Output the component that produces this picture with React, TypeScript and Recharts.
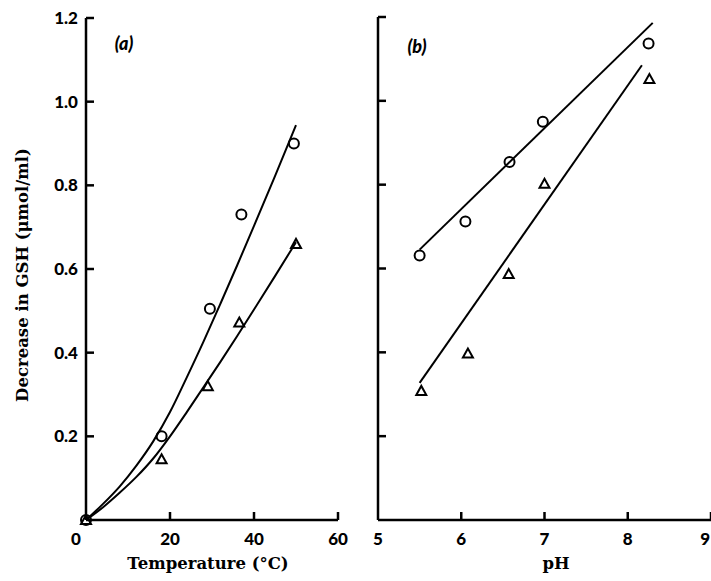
import React from 'react';
import { ComposedChart, Line, Scatter, XAxis, YAxis, Label } from 'recharts';

// ---------- Panel (a): temperature ----------
const tempCircleT = [0, 18, 29.5, 37, 49.5];
const tempCircleV = [0, 0.2, 0.505, 0.73, 0.9];
const tempTriangleT = [0, 18, 29, 36.5, 50];
const tempTriangleV = [0, 0.145, 0.32, 0.472, 0.66];
const tempFitT = [0, 4, 8, 12, 16, 20, 24, 28, 32, 36, 40, 45, 50];
const tempFitCircleV = [0, 0.038, 0.08, 0.13, 0.188, 0.258, 0.341, 0.427, 0.517, 0.609, 0.703, 0.822, 0.944];
const tempFitTriangleV = [0, 0.03, 0.065, 0.103, 0.147, 0.2, 0.258, 0.318, 0.378, 0.44, 0.503, 0.583, 0.664];
const tempTicks = [0, 20, 40, 60];

// ---------- Panel (b): pH ----------
const phCircleX = [5.5, 6.05, 6.58, 6.98, 8.25];
const phCircleV = [0.631, 0.712, 0.854, 0.95, 1.137];
const phTriangleX = [5.52, 6.08, 6.57, 7.0, 8.26];
const phTriangleV = [0.308, 0.397, 0.587, 0.802, 1.052];
const phFitCircleX = [5.5, 8.3];
const phFitCircleV = [0.645, 1.186];
const phFitTriangleX = [5.5, 8.17];
const phFitTriangleV = [0.327, 1.085];
const phTicks = [5, 6, 7, 8, 9];

const gshTicks = [0.2, 0.4, 0.6, 0.8, 1.0, 1.2];

const yTitle = 'Decrease in GSH (\u03bcmol/ml)';
const xTitleA = 'Temperature (\u00b0C)';
const xTitleB = 'pH';
const panelA = '(a)';
const panelB = '(b)';

const pts = (xs: number[], ys: number[]) => xs.map((x, i) => ({ x, y: ys[i] }));

const tickFont: React.CSSProperties = {
  fontFamily: 'Lato, "Open Sans", sans-serif',
  fontWeight: 900,
  fontSize: 17,
  fill: '#000',
};
const titleFont: React.CSSProperties = {
  fontFamily: '"DejaVu Serif", serif',
  fontWeight: 700,
  fontSize: 16.5,
  fill: '#000',
};
const panelFont: React.CSSProperties = {
  fontFamily: 'Lato, "Open Sans", sans-serif',
  fontWeight: 900,
  fontStyle: 'italic',
  fontSize: 18,
  fill: '#000',
};

const AX = 2.5;

const CircleShape = (p: any) => (
  <circle cx={p.cx} cy={p.cy} r={5} fill="none" stroke="#000" strokeWidth={2} />
);
const TriangleShape = (p: any) => (
  <path
    d={`M${p.cx - 5},${p.cy + 4} L${p.cx + 5},${p.cy + 4} L${p.cx},${p.cy - 5} Z`}
    fill="none"
    stroke="#000"
    strokeWidth={2}
    strokeLinejoin="miter"
  />
);

const makeXTick = (firstShift: number, lastAnchorEnd: boolean, count: number) => (p: any) => {
  const isFirst = p.index === 0;
  const isLast = p.index === count - 1;
  const anchor = isLast && lastAnchorEnd ? 'end' : 'middle';
  const tx = p.x + (isFirst ? firstShift : 0) + (isLast && lastAnchorEnd ? -1 : 0);
  return (
    <g>
      {!isFirst && <line x1={p.x} y1={p.y} x2={p.x} y2={p.y - 8} stroke="#000" strokeWidth={AX} />}
      <text x={tx} y={p.y + 25} textAnchor={anchor} style={tickFont}>
        {String(p.payload.value)}
      </text>
    </g>
  );
};

const makeYTick = (showLabel: boolean) => (p: any) => (
  <g>
    <line x1={p.x} y1={p.y} x2={p.x + 8} y2={p.y} stroke="#000" strokeWidth={AX} />
    {showLabel && (
      <text x={p.x - 8} y={p.y + 6} textAnchor="end" style={tickFont}>
        {Number(p.payload.value).toFixed(1)}
      </text>
    )}
  </g>
);

const W = 711;
const H = 581;

export default function App() {
  return (
    <div style={{ position: 'absolute', left: 0, top: 0, width: W, height: H, overflow: 'hidden', background: '#fff' }}>
      <div style={{ position: 'absolute', left: 0, top: 0 }}>
        <ComposedChart width={360} height={H} margin={{ top: 18, left: 85, right: 22, bottom: 60 }}>
          <XAxis
            type="number"
            dataKey="x"
            domain={[0, 60]}
            ticks={tempTicks}
            height={1}
            tickSize={0}
            tickMargin={0}
            tickLine={false}
            axisLine={{ stroke: '#000', strokeWidth: AX }}
            tick={makeXTick(-10, false, tempTicks.length)}
            interval={0}
          >
            <Label
              content={() => (
                <text x={208} y={569} textAnchor="middle" style={titleFont}>
                  {xTitleA}
                </text>
              )}
            />
          </XAxis>
          <YAxis
            type="number"
            dataKey="y"
            domain={[0, 1.2]}
            ticks={gshTicks}
            width={1}
            tickSize={0}
            tickMargin={0}
            tickLine={false}
            axisLine={{ stroke: '#000', strokeWidth: AX }}
            tick={makeYTick(true)}
            interval={0}
          >
            <Label
              content={() => (
                <g>
                  <text
                    x={22}
                    y={275}
                    transform="rotate(-90 22 275)"
                    textAnchor="middle"
                    dominantBaseline="central"
                    style={titleFont}
                  >
                    {yTitle}
                  </text>
                  <text x={124} y={50} textAnchor="middle" style={panelFont}>
                    {panelA}
                  </text>
                </g>
              )}
            />
          </YAxis>
          <Line
            data={pts(tempFitT, tempFitCircleV)}
            dataKey="y"
            type="monotone"
            stroke="#000"
            strokeWidth={2}
            dot={false}
            activeDot={false}
            isAnimationActive={false}
          />
          <Line
            data={pts(tempFitT, tempFitTriangleV)}
            dataKey="y"
            type="monotone"
            stroke="#000"
            strokeWidth={2}
            dot={false}
            activeDot={false}
            isAnimationActive={false}
          />
          <Scatter data={pts(tempCircleT, tempCircleV)} dataKey="y" shape={CircleShape} isAnimationActive={false} />
          <Scatter data={pts(tempTriangleT, tempTriangleV)} dataKey="y" shape={TriangleShape} isAnimationActive={false} />
        </ComposedChart>
      </div>
      <div style={{ position: 'absolute', left: 360, top: 0 }}>
        <ComposedChart width={351} height={H} margin={{ top: 17, left: 17, right: 0, bottom: 60 }}>
          <XAxis
            type="number"
            dataKey="x"
            domain={[5, 9]}
            ticks={phTicks}
            height={1}
            tickSize={0}
            tickMargin={0}
            tickLine={false}
            axisLine={{ stroke: '#000', strokeWidth: AX }}
            tick={makeXTick(0, true, phTicks.length)}
            interval={0}
          >
            <Label
              content={() => (
                <text x={196} y={569} textAnchor="middle" style={titleFont}>
                  {xTitleB}
                </text>
              )}
            />
          </XAxis>
          <YAxis
            type="number"
            dataKey="y"
            domain={[0, 1.2]}
            ticks={gshTicks}
            width={1}
            tickSize={0}
            tickMargin={0}
            tickLine={false}
            axisLine={{ stroke: '#000', strokeWidth: AX }}
            tick={makeYTick(false)}
            interval={0}
          >
            <Label
              content={() => (
                <text x={57} y={53} textAnchor="middle" style={panelFont}>
                  {panelB}
                </text>
              )}
            />
          </YAxis>
          <Line
            data={pts(phFitCircleX, phFitCircleV)}
            dataKey="y"
            type="linear"
            stroke="#000"
            strokeWidth={2}
            dot={false}
            activeDot={false}
            isAnimationActive={false}
          />
          <Line
            data={pts(phFitTriangleX, phFitTriangleV)}
            dataKey="y"
            type="linear"
            stroke="#000"
            strokeWidth={2}
            dot={false}
            activeDot={false}
            isAnimationActive={false}
          />
          <Scatter data={pts(phCircleX, phCircleV)} dataKey="y" shape={CircleShape} isAnimationActive={false} />
          <Scatter data={pts(phTriangleX, phTriangleV)} dataKey="y" shape={TriangleShape} isAnimationActive={false} />
        </ComposedChart>
      </div>
    </div>
  );
}
